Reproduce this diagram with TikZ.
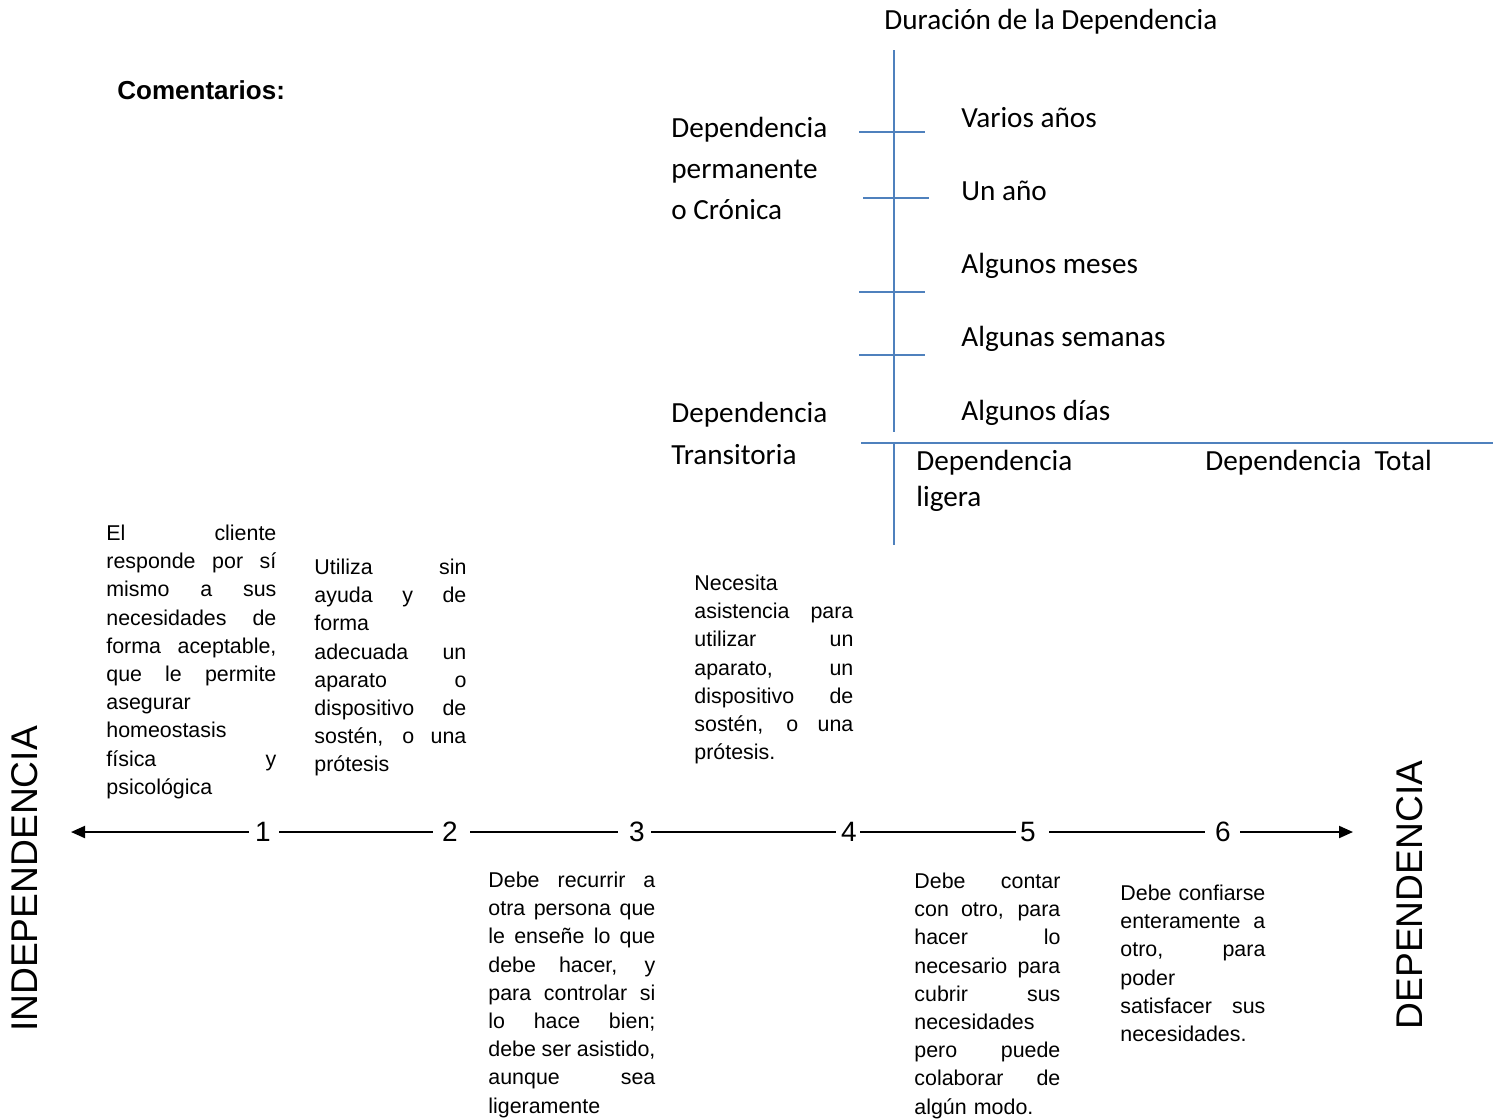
\documentclass[tikz,border=0pt]{standalone}
\usepackage{fontspec}
\usetikzlibrary{arrows.meta}
\newfontfamily\calfont{Carlito}
\newfontfamily\arfont{Liberation Sans}
\definecolor{tickblue}{RGB}{79,129,189}
\newlength{\bw}
\newcommand{\jl}[1]{\leavevmode\hbox to\bw{\spaceskip=0.28em plus 1fil minus 0.08em\relax #1}\\}
\newcommand{\fa}{\rule{0pt}{11pt}}
\newcommand{\fc}{\rule{0pt}{13pt}}
\tikzset{
  blueline/.style={draw=tickblue, line width=1pt},
  axisline/.style={draw=black, line width=1pt},
  caltxt/.style={font=\calfont\fontsize{14.6pt}{20.5pt}\selectfont, inner sep=0pt, anchor=base west},
  calblock/.style={font=\calfont\fontsize{14.6pt}{#1}\selectfont, inner sep=0pt, anchor=north west, align=left},
  arblock/.style={font=\arfont\fontsize{10.7pt}{14.1pt}\selectfont, inner sep=0pt, anchor=north west, align=left, text width=#1, execute at begin node={\setlength{\bw}{#1}}},
  digit/.style={font=\arfont\fontsize{14pt}{16pt}\selectfont, inner sep=0pt},
  bigword/.style={font=\arfont\fontsize{18.6pt}{20pt}\selectfont, rotate=90, inner sep=0pt},
  tip/.style={-{Triangle[length=7pt,width=6pt]}}
}
\begin{document}
\begin{tikzpicture}[x=0.5pt,y=-0.5pt]
\useasboundingbox (0,0) rectangle (1502,1119);
% title and comments
\node[caltxt] (title) at (884,29) {Duración de la Dependencia};
\node[font=\arfont\bfseries\fontsize{13pt}{15pt}\selectfont, inner sep=0pt, anchor=base west] (coment) at (117,99) {Comentarios:};
% blue axes
\draw[blueline] (894,50) -- (894,432);
\draw[blueline] (894,443) -- (894,545);
\draw[blueline] (861,443) -- (1493,443);
\draw[blueline] (859,132) -- (925,132);
\draw[blueline] (863,198) -- (929,198);
\draw[blueline] (859,292) -- (925,292);
\draw[blueline] (859,355) -- (925,355);
% duration labels
\node[caltxt] (d1) at (961,127) {Varios años};
\node[caltxt] (d2) at (961,200) {Un año};
\node[caltxt] (d3) at (961,273) {Algunos meses};
\node[caltxt] (d4) at (961,346) {Algunas semanas};
\node[caltxt] (d5) at (961,420) {Algunos días};
\node[calblock=20.5pt] (perm) at (671,111) {\fc Dependencia\\permanente\\o Crónica};
\node[calblock=21pt] (trans) at (671,396) {\fc Dependencia\\Transitoria};
\node[calblock=18pt] (lig) at (916,444) {\fc Dependencia\\ligera};
\node[caltxt] (tot) at (1205,470) {Dependencia~ Total};
% descriptions
\node[arblock=85pt] (b1) at (106,518) {\noindent\jl{\fa El cliente}\jl{responde por sí}\jl{mismo a sus}\jl{necesidades de}\jl{forma aceptable,}\jl{que le permite}asegurar\\homeostasis\\\jl{física y}psicológica};
\node[arblock=76pt] (b2) at (314,552) {\noindent\jl{\fa Utiliza sin}\jl{ayuda y de}forma\\\jl{adecuada un}\jl{aparato o}\jl{dispositivo de}\jl{sostén, o una}prótesis};
\node[arblock=79.5pt] (b3) at (694,568) {\noindent\fa Necesita\\\jl{asistencia para}\jl{utilizar un}\jl{aparato, un}\jl{dispositivo de}\jl{sostén, o una}prótesis.};
\node[arblock=83.5pt] (b4) at (488,865) {\noindent\jl{\fa Debe recurrir a}\jl{otra persona que}\jl{le enseñe lo que}\jl{debe hacer, y}\jl{para controlar si}\jl{lo hace bien;}\jl{debe ser asistido,}\jl{aunque sea}ligeramente};
\node[arblock=73pt] (b5) at (914,866) {\noindent\jl{\fa Debe contar}\jl{con otro, para}\jl{hacer lo}\jl{necesario para}\jl{cubrir sus}necesidades\\\jl{pero puede}\jl{colaborar de}algún modo.};
\node[arblock=72.5pt] (b6) at (1120,878) {\noindent\jl{\fa Debe confiarse}\jl{enteramente a}\jl{otro, para}poder\\\jl{satisfacer sus}necesidades.};
% big words
\node[bigword] (indep) at (25,879) {INDEPENDENCIA};
\node[bigword] (dep) at (1410,895) {DEPENDENCIA};
% scale
\node[digit] (n1) at (263,832) {1};
\node[digit] (n2) at (450,832) {2};
\node[digit] (n3) at (637,832) {3};
\node[digit] (n4) at (849,832) {4};
\node[digit] (n5) at (1028,832) {5};
\node[digit] (n6) at (1223,832) {6};
\coordinate (L) at (71,832);
\coordinate (R) at (1353,832);
\draw[axisline,tip,shorten <=3pt] (n1) -- (L);
\draw[axisline,shorten <=4pt,shorten >=4.5pt] (n1) -- (n2);
\draw[axisline,shorten <=6pt,shorten >=5.5pt] (n2) -- (n3);
\draw[axisline,shorten <=3pt,shorten >=2.5pt] (n3) -- (n4);
\draw[axisline,shorten <=1.5pt,shorten >=2pt] (n4) -- (n5);
\draw[axisline,shorten <=6.5pt,shorten >=5pt] (n5) -- (n6);
\draw[axisline,tip,shorten <=4.5pt] (n6) -- (R);
\end{tikzpicture}
\end{document}
